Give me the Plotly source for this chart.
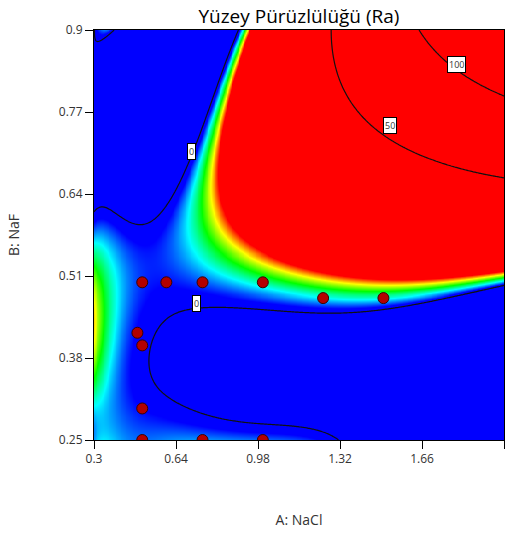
import numpy as np
import plotly.graph_objects as go

# design points (A: NaCl, B: NaF)
pt_A = [0.5, 0.6, 0.75, 1.0, 1.25, 1.5, 0.48, 0.5, 0.5, 0.5, 0.75, 1.0]
pt_B = [0.5, 0.5, 0.5, 0.5, 0.475, 0.475, 0.42, 0.4, 0.3, 0.25, 0.25, 0.25]

# response values: (A, B, Ra, weight)
ctrl = [
    # upper 0 contour
    (0.3, 0.607, 0, 10), (0.437, 0.594, 0, 10), (0.519, 0.599, 0, 10), (0.59, 0.623, 0, 10),
    (0.632, 0.638, 0, 10), (0.706, 0.707, 0, 10), (0.748, 0.737, 0, 10), (0.793, 0.789, 0, 10),
    (0.849, 0.85, 0, 10), (0.905, 0.9, 0, 10),
    # top-left corner 0 contour
    (0.3, 0.884, 0, 8), (0.34, 0.892, 0, 8), (0.383, 0.898, 0, 8), (0.3, 0.9, 0.1, 4),
    (0.3, 0.85, -0.6, 3), (0.3, 0.8, -1.5, 3), (0.3, 0.75, -2.2, 3), (0.35, 0.85, -0.8, 2),
    # lower 0 contour
    (2.0, 0.496, 0, 10), (1.75, 0.472, 0, 10), (1.473, 0.456, 0, 10), (1.2, 0.456, 0, 10),
    (1.005, 0.456, 0, 10), (0.785, 0.464, 0, 10), (0.702, 0.459, 0, 10), (0.632, 0.432, 0, 10),
    (0.574, 0.409, 0, 10), (0.561, 0.345, 0, 10), (0.586, 0.313, 0, 10), (0.686, 0.294, 0, 10),
    (0.988, 0.286, 0, 10), (1.196, 0.261, 0, 10), (1.332, 0.25, 0, 10),
    # 50 contour
    (1.29, 0.9, 50, 0.6), (1.361, 0.805, 50, 0.6), (1.527, 0.749, 50, 0.6), (1.652, 0.71, 50, 0.6),
    (1.846, 0.681, 50, 0.6), (2.0, 0.659, 50, 0.6),
    # 100 contour
    (1.66, 0.9, 100, 0.5), (1.801, 0.845, 100, 0.5), (1.9, 0.816, 100, 0.5), (2.0, 0.786, 100, 0.5),
    # edge of saturated red (5)
    (0.926, 0.9, 5, 4), (0.88, 0.85, 5, 4), (0.851, 0.789, 5, 4), (0.83, 0.737, 5, 4), (0.835, 0.657, 5, 4),
    (0.827, 0.63, 5, 4), (0.85, 0.591, 5, 4), (0.885, 0.578, 5, 4), (0.963, 0.543, 5, 4), (1.1, 0.524, 5, 4),
    (1.568, 0.507, 5, 4), (2.0, 0.516, 5, 4),
    # colour band readings
    (0.3, 0.25, 1.0, 5), (0.3, 0.29, 1.7, 5), (0.3, 0.33, 2.4, 5), (0.3, 0.40, 3.2, 5), (0.3, 0.46, 3.7, 5),
    (0.3, 0.50, 3.5, 5), (0.3, 0.543, 2.75, 5), (0.3, 0.57, 1.6, 5), (0.3, 0.586, 0.9, 5),
    (0.354, 0.466, 2.75, 4), (0.424, 0.466, 1.6, 4), (0.466, 0.466, 1.0, 4), (0.507, 0.466, 0.5, 4), (0.6, 0.466, 0.15, 4),
    (0.35, 0.5, 2.9, 4), (0.387, 0.5, 1.6, 4), (0.42, 0.5, 1.0, 4), (0.46, 0.5, 0.5, 5), (0.5, 0.5, 0.35, 6),
    (0.6, 0.5, 0.3, 6), (0.75, 0.5, 0.4, 6), (0.87, 0.5, 0.9, 4), (1.0, 0.5, 1.5, 4),
    (0.37, 0.543, 1.6, 4), (0.42, 0.543, 1.0, 4), (0.466, 0.543, 0.5, 5), (0.55, 0.543, 0.4, 6), (0.644, 0.543, 1.0, 4),
    (0.715, 0.543, 1.6, 4), (0.797, 0.543, 2.75, 4), (0.851, 0.543, 3.9, 4),
    (0.5, 0.591, 0.1, 4), (0.619, 0.591, 1.0, 4), (0.702, 0.591, 1.6, 4), (0.756, 0.591, 2.75, 4), (0.81, 0.591, 3.9, 4),
    (0.673, 0.63, 1.6, 4), (0.727, 0.63, 2.75, 4), (0.785, 0.63, 3.9, 4),
    (0.69, 0.657, 1.0, 4), (0.72, 0.657, 1.6, 4), (0.75, 0.657, 2.75, 4), (0.79, 0.657, 3.9, 4),
    (0.77, 0.737, 1.6, 4), (0.79, 0.737, 2.75, 4), (0.81, 0.737, 3.9, 4),
    (0.865, 0.85, 2.75, 4), (0.915, 0.9, 2.75, 4),
    (0.354, 0.345, 1.6, 4), (0.395, 0.345, 1.0, 4), (0.437, 0.345, 0.5, 4),
    (0.35, 0.313, 1.4, 4), (0.4, 0.313, 0.8, 4), (0.5, 0.28, 0.8, 4), (0.5, 0.32, 0.35, 4),
    (0.4, 0.25, 1.2, 4), (0.5, 0.25, 1.3, 4), (0.75, 0.25, 1.2, 4), (1.0, 0.25, 0.8, 4), (1.2, 0.25, 0.3, 4),
    (1.25, 0.475, 1.8, 4), (1.5, 0.475, 1.8, 4), (1.5, 0.487, 2.75, 4), (1.5, 0.497, 3.9, 4),
    # inside regions
    (0.45, 0.75, -2.5, 0.3), (0.6, 0.85, -2, 0.3), (0.5, 0.65, -1, 0.3),
    (0.7, 0.8, -1, 0.3), (0.45, 0.85, -1.2, 0.3), (0.6, 0.72, -1.5, 0.3),
    (2.0, 0.4, -24, 0.2), (2.0, 0.25, -50, 0.1), (1.5, 0.35, -10, 0.2), (1.5, 0.25, -16, 0.2),
    (1.75, 0.3, -25, 0.1), (1.75, 0.42, -10, 0.2),
    (1.0, 0.37, -1.5, 0.5), (0.75, 0.38, -0.5, 1), (1.25, 0.36, -4.5, 0.3),
    (1.1, 0.9, 27, 0.3), (1.48, 0.9, 75, 0.3), (1.85, 0.9, 125, 0.3), (2.0, 0.9, 148, 0.3),
    (1.1, 0.8, 27, 0.3), (1.66, 0.8, 75, 0.3), (1.25, 0.85, 42, 0.3), (1.25, 0.7, 27, 0.3), (2.0, 0.7, 66, 0.3),
    (1.4, 0.6, 18, 0.3), (2.0, 0.6, 31, 0.3), (1.45, 0.55, 10, 0.3), (1.0, 0.65, 12, 0.2),
]
P = np.array(ctrl, dtype=float)
poly_terms = [(i, j) for i in range(6) for j in range(6) if i + j <= 7]
edge_terms = list(range(6))   # powers of B in the NaCl-edge terms
edge_scale = 0.12             # decay length (NaCl units) of the NaCl-edge terms


def coded(A, B):
    return (np.log(np.asarray(A)) + 0.2554) / 0.9486, (np.asarray(B) - 0.575) / 0.325


def basis(A, B):
    a, b = coded(A, B)
    edge = np.exp(-(np.asarray(A) - 0.3) / edge_scale)
    return [a**i * b**j for i, j in poly_terms] + [edge * b**j for j in edge_terms]


X = np.column_stack(basis(P[:, 0], P[:, 1]))
W2 = P[:, 3] ** 2
reg = np.diag([1e-4] * len(poly_terms) + [1e-3] * len(edge_terms))
coef = np.linalg.solve((X * W2[:, None]).T @ X + reg, (X * W2[:, None]).T @ P[:, 2])

gA = np.linspace(0.3, 2.0, 241)
gB = np.linspace(0.25, 0.9, 201)
AA, BB = np.meshgrid(gA, gB)
Z = sum(c * col for c, col in zip(coef, basis(AA, BB)))

levels = [0, 50, 100]
label_pos = [(0.706, 0.707, '0'), (0.727, 0.466, '0'), (1.527, 0.749, '50'), (1.801, 0.845, '100')]

fig = go.Figure()
fig.add_trace(go.Heatmap(x=gA, y=gB, z=Z, zmin=0.5, zmax=5, zsmooth='best', showscale=False, hoverinfo='skip',
                         colorscale=[[0, '#0000ff'], [0.25, '#00ffff'], [0.5, '#00ff00'], [0.75, '#ffff00'], [1, '#ff0000']]))
fig.add_trace(go.Contour(x=gA, y=gB, z=Z, contours=dict(start=levels[0], end=levels[-1], size=levels[1] - levels[0], coloring='none'),
                         line=dict(color='#111111', width=1.2), showscale=False, hoverinfo='skip'))
fig.add_trace(go.Scatter(x=pt_A, y=pt_B, mode='markers',
                         marker=dict(size=11, color='#b40000', line=dict(color='#3a0000', width=1))))
for x, y, t in label_pos:
    fig.add_annotation(x=x, y=y, text=t, showarrow=False, bgcolor='white', bordercolor='black', borderwidth=1,
                       borderpad=1, font=dict(size=9, color='#333333', family='Open Sans'))
fig.update_layout(width=505, height=541, margin=dict(l=94, r=1, t=30, b=101),
                  plot_bgcolor='white', paper_bgcolor='white', showlegend=False,
                  font=dict(family='Open Sans', color='#333333'),
                  title=dict(text='Yüzey Pürüzlülüğü (Ra)', x=0.592, xanchor='center', y=0.982,
                             font=dict(size=19, family='Open Sans', color='black')))
fig.update_xaxes(range=[0.3, 2.0], tickvals=[0.3, 0.64, 0.98, 1.32, 1.66, 2], ticktext=['0.3', '0.64', '0.98', '1.32', '1.66', '2'],
                 ticks='outside', ticklen=8, tickcolor='black', showline=True, linecolor='black', mirror=True,
                 showgrid=False, zeroline=False, tickfont=dict(size=12),
                 title=dict(text='A: NaCl', standoff=48, font=dict(size=14)))
fig.update_yaxes(range=[0.25, 0.9], tickvals=[0.25, 0.38, 0.51, 0.64, 0.77, 0.9], ticktext=['0.25', '0.38', '0.51', '0.64', '0.77', '0.9'],
                 ticks='outside', ticklen=8, tickcolor='black', showline=True, linecolor='black', mirror=True,
                 showgrid=False, zeroline=False, tickfont=dict(size=12),
                 title=dict(text='B: NaF', standoff=35, font=dict(size=14)))
fig.write_html('out.html', config={'displayModeBar': False},
               post_script="document.body.style.margin='0';document.body.style.overflow='hidden';")
